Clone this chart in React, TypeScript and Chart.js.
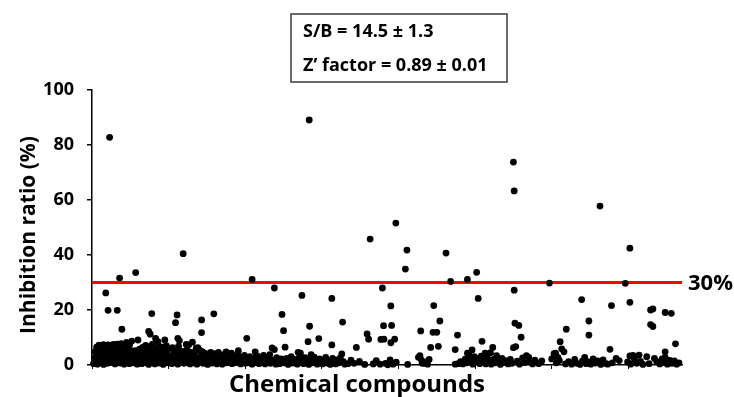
import { useEffect, useRef } from "react";
import { Chart, registerables } from "chart.js";

Chart.register(...registerables);

// x = compound index, y = inhibition ratio (%)
const xTickValues = [0, 100, 200, 300, 400, 500, 600, 700];
const yTickValues = [0, 20, 40, 60, 80, 100];
const thresholdValue = 30;
const xMax = 770;

const highOutliers: [number, number][] = [
  [23, 82.8], [18, 26.2], [21, 19.9], [33, 19.9], [36, 31.6], [57, 33.6], [119, 40.5], [39, 13],
  [78, 18.7], [111, 18.2], [109, 15.4], [143, 16.4], [159, 18.6], [143, 11.8], [74, 12.2], [76, 11.2],
  [60, 9.1], [83, 9.7], [86, 8.5], [95, 9.1], [112, 9.7], [114, 8.9], [131, 8.3], [123, 7.5],
  [138, 6.3], [126, 7.3], [136, 6.1], [144, 4.9],
  [283.5, 89.1], [363, 45.8], [209, 31.1], [238, 28], [274, 25.3], [313, 24.2], [379, 28], [390, 21.5],
  [248, 18.4], [250, 12.5], [284, 14.1], [327, 15.6], [202, 9.7], [296, 9.6], [282, 8.5], [359, 11.3],
  [361, 9.4], [377, 9.3], [380.5, 14.3], [391, 14.4], [252, 6.5], [235, 6.2], [238, 5.6], [313, 7.3],
  [345, 6.4], [326, 4], [286, 3.8], [213, 4.8], [191, 5.2], [269, 4.6], [272, 4.3], [390, 8.1],
  [395, 9.4], [381, 9.4],
  [550, 73.8], [551, 63.3], [396.5, 51.6], [411, 41.8], [409, 34.9], [462, 40.7], [468, 30.4], [490, 31.1],
  [502, 33.7], [504, 24.2], [551, 27.2], [446, 21.6], [454, 16], [445, 11.9], [450, 11.9], [429, 12.4],
  [477, 10.9], [474, 5.6], [442, 6.4], [452, 6.8], [552, 15.2], [557, 14.4], [560, 10.1], [553, 6.7],
  [550, 6.3], [509, 8.6], [513, 4.3], [523, 6.4], [490, 4.3], [496, 5.5], [499, 3],
  [663, 57.8], [702, 42.5], [597, 29.8], [696, 29.7], [702, 22.8], [639, 23.8], [678, 21.6], [729, 20],
  [732, 20.4], [748, 19.1], [756, 18.8], [648.5, 16], [648.5, 10.9], [619, 13], [611, 8.5], [613, 5.9],
  [616, 4.8], [603, 4.1], [608, 2.8], [676, 5.7], [684, 2.4], [702, 3.3], [706, 3.5], [714, 3.6],
  [724, 3], [734, 2.4], [748, 4.8], [761.5, 7.7], [748, 2.8], [729, 14.7], [732, 14], [570, 2.8],
  [605, 4.3],
];

const bandA: [number, number][] = [
  [2, 0.5], [3, 2.5], [4, 4.8], [5, 1.2], [6, 6.5], [6, 3.4], [7, 0.3], [8, 5.6], [8, 2], [9, 7.2],
  [10, 3.8], [10, 0.8], [11, 5.9], [12, 2.6], [13, 6.8], [13, 1.1], [14, 4.2], [15, 0.2], [15, 7.4],
  [16, 2.9], [17, 5.3], [18, 1.5], [18, 6.9], [19, 3.6], [20, 0.6], [21, 7.3], [21, 4.6], [22, 2.1],
  [23, 5.8], [24, 0.9], [24, 7], [25, 3.3], [26, 6.1], [27, 1.7], [27, 4.4], [28, 7.5], [29, 2.4],
  [30, 5.2], [30, 0.4], [31, 6.6], [32, 3.7], [33, 1.3], [33, 7.6], [34, 4.9], [35, 2.2], [36, 6.3],
  [37, 0.7], [37, 3.9], [38, 7.8], [39, 5.5], [40, 1.9], [41, 3.2], [41, 7], [42, 0.3], [43, 5.7],
  [44, 2.8], [45, 8.2], [45, 4.3], [46, 1.1], [47, 6.4], [48, 3.5], [49, 0.5], [49, 7.3], [50, 2.3],
  [51, 5.1], [52, 8.7], [52, 1.6],
];

const bandB: [number, number][] = [
  [54, 3], [55, 0.8], [56, 5.2], [57, 1.9], [58, 3.9], [59, 0.3], [61, 2.7], [62, 5.8], [63, 1.2],
  [64, 3.6], [65, 0.5], [66, 6.4], [67, 2.2], [68, 4.5], [69, 0.9], [70, 7.1], [71, 3.1], [72, 1.5],
  [73, 5.4], [74, 0.2], [75, 2.8], [76, 6.8], [77, 4.1], [78, 1], [79, 7.6], [80, 2.5], [81, 5],
  [82, 0.4], [83, 3.4], [84, 6.1], [85, 1.8], [87, 4.7], [88, 0.7], [89, 2.9], [90, 6.6], [91, 1.3],
  [92, 4], [93, 0.2], [94, 5.6], [96, 2.4], [97, 7], [98, 0.9], [99, 3.7], [100, 5.9], [101, 1.6],
  [102, 3], [104, 0.5], [105, 6.3], [106, 2.1], [107, 4.4], [108, 1], [110, 5.3], [111, 2.6],
  [112, 0.3], [113, 6.9], [115, 3.8], [116, 1.2], [117, 5], [118, 2.3], [120, 0.6], [121, 4.2],
  [122, 2], [124, 5.5], [125, 1], [127, 3.3], [128, 0.4], [129, 4.6], [130, 2.2],
];

const bandC: [number, number][] = [
  [132, 0.8], [133, 3.6], [134, 1.5], [135, 4.8], [137, 0.3], [139, 2.4], [140, 5.5], [141, 1.1],
  [142, 3.2], [145, 0.6], [146, 2.7], [148, 4.2], [149, 1], [151, 0.2], [152, 3.5], [154, 1.6],
  [155, 4.6], [157, 0.7], [158, 2.8], [160, 1.3], [161, 4.1], [163, 0.4], [164, 2.5], [165, 4.6],
  [167, 1], [169, 3], [170, 0.3], [172, 1.9], [173, 3.9], [175, 4.8], [176, 0.8], [178, 2.6],
  [180, 1.4], [182, 4.3], [183, 0.5], [185, 2.2], [187, 3.4], [188, 0.9], [190, 1.7], [192, 3.1],
  [194, 0.4], [195, 2.3], [197, 1.1], [199, 3.5], [200, 0.6],
];

const bandD: [number, number][] = [
  [202, 2.1], [204, 0.8], [206, 3], [207, 1.4], [209, 0.3], [211, 2.5], [214, 1], [216, 3.2],
  [218, 0.5], [220, 2], [222, 1.2], [224, 3.5], [226, 0.4], [228, 2.3], [230, 1.1], [232, 3.8],
  [233, 0.6], [236, 1.8], [240, 0.3], [241, 2.7], [243, 1.3], [245, 0.5], [247, 2.2], [251, 0.8],
  [254, 2.4], [256, 0.2], [258, 1.6], [260, 3], [262, 0.7], [264, 2], [266, 1.2], [268, 0.3],
  [270, 2.5], [274, 1.4], [276, 0.5], [278, 2.7], [280, 1], [283, 0.2], [285, 1.9], [288, 0.8],
  [290, 2.9], [292, 1.5], [294, 0.3], [297, 2.2], [299, 1], [301, 0.4], [303, 1.8], [305, 2.8],
  [307, 0.7], [309, 1.5], [311, 0.2], [314, 2.4], [316, 1], [318, 0.4], [320, 1.9], [322, 0.8],
  [324, 2.6], [328, 1.2], [330, 0.3],
];

const bandE: [number, number][] = [
  [334, 0.5], [338, 1.8], [342, 0.6], [349, 1.3], [356, 0.2], [367, 0.4], [371, 1.6], [376, 0.3],
  [383, 0.6], [386, 0.1], [389, 1.9], [393, 0.3], [397, 1],
  [412, 0.2], [426, 2.8], [428, 3.4], [430, 1.8], [431, 0.6], [434, 0.6], [436, 1.1], [438, 0.3], [440, 2],
];

const bandF: [number, number][] = [
  [474, 0.3], [478, 0.5], [481, 1.2], [484, 0.4], [487, 2.1], [489, 0.8], [492, 3.6], [494, 1.5],
  [497, 0.3], [501, 2.5], [503, 1.6], [506, 0.5], [508, 3.2], [511, 1.8], [514, 0.4], [516, 2.7],
  [518, 1], [520, 4.5], [521, 0.3], [524, 2], [526, 0.8], [528, 3.4], [530, 1.2], [533, 0.2],
  [535, 2.4], [537, 0.9], [540, 1.6], [543, 0.4], [546, 2], [548, 0.6], [555, 1.4], [558, 0.3],
  [562, 2.6], [565, 0.9], [567, 3.4], [572, 1.1], [575, 0.4], [578, 1.8],
];

const bandG: [number, number][] = [
  [583, 0.5], [587, 1.5], [600, 2.2], [606, 0.8], [610, 1.6], [618, 0.4], [622, 1.2], [626, 0.3],
  [630, 2], [633, 0.6], [637, 0.2], [640, 1.4], [643, 2.8], [645, 0.5], [648, 1.1], [651, 0.3],
  [654, 2.2], [657, 0.7], [660, 1.5], [664, 0.2], [667, 1.9], [670, 0.6], [673, 0.3], [679, 0.8],
  [688, 1.6], [699, 1.1], [703, 0.3], [708, 2.1], [711, 0.6], [716, 1.3], [719, 0.2], [727, 0.5],
  [737, 1.2], [741, 0.4], [744, 2.2], [747, 0.9], [751, 0.3], [754, 1.7], [757, 0.6], [760, 1.5],
  [763, 0.3], [766, 0.8],
];

const boxLines = ["S/B = 14.5 \u00B1 1.3", "Z\u2019 factor = 0.89 \u00B1 0.01"];
const xTitle = "Chemical compounds";
const yTitle = "Inhibition ratio (%)";
const thresholdLabel = "30%";

const FONT = "'Open Sans', 'Liberation Sans', sans-serif";

export default function App() {
  const canvasRef = useRef<HTMLCanvasElement | null>(null);

  useEffect(() => {
    const canvas = canvasRef.current;
    if (!canvas) return;
    const points = [...highOutliers, ...bandA, ...bandB, ...bandC, ...bandD, ...bandE, ...bandF, ...bandG].map(
      ([x, y]) => ({ x, y })
    );

    const annotations = {
      id: "annotations",
      afterDraw(chart: any) {
        const ctx = chart.ctx as CanvasRenderingContext2D;
        const area = chart.chartArea;
        const yScale = chart.scales.y;
        ctx.save();
        // box
        ctx.strokeStyle = "#3a3a3a";
        ctx.lineWidth = 1.5;
        ctx.strokeRect(291, 14, 216, 68);
        ctx.fillStyle = "#000";
        ctx.font = `bold 18px ${FONT}`;
        ctx.textAlign = "left";
        ctx.textBaseline = "alphabetic";
        ctx.fillText(boxLines[0], 303, 37);
        ctx.fillText(boxLines[1], 303, 71);
        // threshold label
        ctx.font = `bold 22px ${FONT}`;
        ctx.textBaseline = "middle";
        ctx.fillText(thresholdLabel, area.right + 6, yScale.getPixelForValue(thresholdValue) + 1);
        // x title
        ctx.font = `bold 24px ${FONT}`;
        ctx.textAlign = "center";
        ctx.textBaseline = "alphabetic";
        ctx.fillText(xTitle, 357, 392);
        // y title
        ctx.translate(29, 235);
        ctx.rotate(-Math.PI / 2);
        ctx.font = `bold 21px ${FONT}`;
        ctx.textBaseline = "middle";
        ctx.fillText(yTitle, 0, 0);
        ctx.restore();
      },
    };

    const chart = new Chart(canvas, {
      type: "scatter",
      data: {
        datasets: [
          {
            type: "scatter",
            data: points,
            backgroundColor: "#000",
            borderColor: "#000",
            pointRadius: 3.4,
            borderWidth: 0,
            clip: false,
          } as any,
          {
            type: "line",
            data: [
              { x: 0, y: thresholdValue },
              { x: xMax, y: thresholdValue },
            ],
            borderColor: "#ff0000",
            borderWidth: 3,
            pointRadius: 0,
            clip: false,
          } as any,
        ],
      },
      options: {
        animation: false,
        responsive: true,
        maintainAspectRatio: false,
        layout: { padding: { top: 90, right: 52, left: 0, bottom: 0 } },
        plugins: { legend: { display: false }, tooltip: { enabled: false }, title: { display: false } },
        scales: {
          x: {
            type: "linear",
            min: 0,
            max: xMax,
            afterBuildTicks: (scale: any) => {
              scale.ticks = xTickValues.map((value) => ({ value }));
            },
            afterFit: (scale: any) => {
              scale.height = 32;
            },
            ticks: { display: false },
            grid: { display: true, drawOnChartArea: false, drawTicks: true, tickLength: 4, color: "#000", lineWidth: 1 },
            border: { display: true, color: "#000", width: 1.5 },
          },
          y: {
            type: "linear",
            min: 0,
            max: 100,
            afterBuildTicks: (scale: any) => {
              scale.ticks = yTickValues.map((value) => ({ value }));
            },
            afterFit: (scale: any) => {
              scale.width = 92;
            },
            ticks: { color: "#000", padding: 13, font: { family: FONT, size: 18, weight: "bold" } },
            grid: { display: true, drawOnChartArea: false, drawTicks: true, tickLength: 5, color: "#000", lineWidth: 1.5 },
            border: { display: true, color: "#000", width: 1.5 },
          },
        },
      },
      plugins: [annotations],
    });
    return () => chart.destroy();
  }, []);

  return (
    <div style={{ position: "fixed", left: 0, top: 0, width: 734, height: 397, background: "#fff" }}>
      <canvas ref={canvasRef} />
    </div>
  );
}
